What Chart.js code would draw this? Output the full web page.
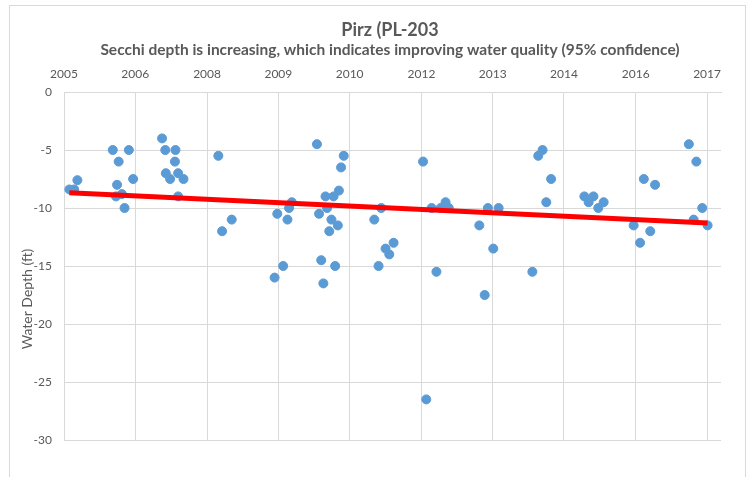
<!DOCTYPE html>
<html>
<head>
<meta charset="utf-8">
<title>Pirz (PL-203</title>
<script src="https://cdn.jsdelivr.net/npm/chart.js@4/dist/chart.umd.min.js"></script>
<style>
  html, body { margin: 0; padding: 0; background: #fff; }
  #wrap { width: 751px; height: 477px; position: relative; }
</style>
</head>
<body>
<div id="wrap"><canvas id="chart"></canvas></div>
<script>
// sample dates (decimal years) and Secchi depth readings (ft, negative = below surface)
const sampleYears = [
  2005.60, 2005.69, 2005.75, 2006.41, 2006.47, 2006.49, 2006.52, 2006.58, 2006.63, 2006.71,
  2006.79, 2007.33, 2007.39, 2007.40, 2007.48, 2007.57, 2007.58, 2007.63, 2007.63, 2007.73,
  2008.38, 2008.45, 2008.63, 2009.43, 2009.48, 2009.59, 2009.67, 2009.70, 2009.75, 2010.22,
  2010.26, 2010.30, 2010.34, 2010.38, 2010.41, 2010.45, 2010.49, 2010.53, 2010.56, 2010.61,
  2010.63, 2010.67, 2010.72, 2011.29, 2011.37, 2011.42, 2011.50, 2011.57, 2011.65, 2012.20,
  2012.26, 2012.36, 2012.45, 2012.53, 2012.62, 2012.68, 2013.25, 2013.35, 2013.41, 2013.51,
  2013.61, 2014.24, 2014.35, 2014.43, 2014.50, 2014.59, 2015.21, 2015.29, 2015.38, 2015.47,
  2015.57, 2016.13, 2016.25, 2016.32, 2016.44, 2016.53, 2017.16, 2017.25, 2017.30, 2017.41,
  2017.51
];
const depthFt = [
  -8.4, -8.4, -7.6, -5.0, -9.0, -8.0, -6.0, -8.8, -10.0, -5.0,
  -7.5, -4.0, -5.0, -7.0, -7.5, -6.0, -5.0, -7.0, -9.0, -7.5,
  -5.5, -12.0, -11.0, -16.0, -10.5, -15.0, -11.0, -10.0, -9.5, -4.5,
  -10.5, -14.5, -16.5, -9.0, -10.0, -12.0, -11.0, -9.0, -15.0, -11.5,
  -8.5, -6.5, -5.5, -11.0, -15.0, -10.0, -13.5, -14.0, -13.0, -6.0,
  -26.5, -10.0, -15.5, -10.0, -9.5, -10.0, -11.5, -17.5, -10.0, -13.5,
  -10.0, -15.5, -5.5, -5.0, -9.5, -7.5, -9.0, -9.5, -9.0, -10.0,
  -9.5, -11.5, -13.0, -7.5, -12.0, -8.0, -4.5, -11.0, -6.0, -10.0,
  -11.5
];
// linear trend end points
const trendYears = [2005.60, 2017.51];
const trendFt = [-8.68, -11.3];

// x axis (Excel date axis, odd major unit)
const xTickValues = [2005.5, 2006.83, 2008.17, 2009.5, 2010.83, 2012.17, 2013.5, 2014.83, 2016.17, 2017.5];
const xTickLabels = ['2005', '2006', '2008', '2009', '2010', '2012', '2013', '2014', '2016', '2017'];
const yTicks = [0, -5, -10, -15, -20, -25, -30];

const titleText = 'Pirz (PL-203';
const subtitleText = 'Secchi depth is increasing, which indicates improving water quality (95% confidence)';
const yTitleText = 'Water Depth (ft)';

const textGray = '#595959';
const gridGray = '#d9d9d9';
const fontFam = 'Lato, "Open Sans", sans-serif';

// outer frame, titles (centred over the plot, not the canvas) and y axis title
const decor = {
  id: 'decor',
  beforeDraw(chart) {
    const c = chart.ctx;
    c.save();
    c.fillStyle = '#fff';
    c.fillRect(0, 0, chart.width, chart.height);
    c.strokeStyle = gridGray;
    c.lineWidth = 1;
    c.strokeRect(9.5, 5.5, 736, 500);
    c.restore();
  },
  afterDraw(chart) {
    const c = chart.ctx;
    c.save();
    c.fillStyle = textGray;
    c.textAlign = 'center';
    c.textBaseline = 'middle';
    c.font = 'bold 18px ' + fontFam;
    c.fillText(titleText, 390, 30);
    c.font = 'bold 15.5px ' + fontFam;
    c.fillText(subtitleText, 390, 49.5);
    c.translate(27, 299);
    c.rotate(-Math.PI / 2);
    c.font = '14px ' + fontFam;
    c.fillText(yTitleText, 0, 0);
    c.restore();
  }
};

new Chart(document.getElementById('chart'), {
  type: 'scatter',
  data: {
    datasets: [
      {
        type: 'line',
        label: 'Trend',
        data: trendYears.map((x, i) => ({ x, y: trendFt[i] })),
        borderColor: '#ff0000',
        borderWidth: 5,
        pointRadius: 0,
        fill: false,
      },
      {
        label: 'Secchi depth',
        data: sampleYears.map((x, i) => ({ x, y: depthFt[i] })),
        backgroundColor: '#5b9bd5',
        borderColor: '#5b9bd5',
        borderWidth: 1,
        pointRadius: 4.5,
      },
    ],
  },
  options: {
    responsive: true,
    maintainAspectRatio: false,
    animation: false,
    layout: { padding: { left: 0, right: 30, top: 66.6, bottom: 37 } },
    plugins: {
      legend: { display: false },
      tooltip: { enabled: false },
    },
    scales: {
      x: {
        type: 'linear',
        position: 'top',
        min: 2005.5,
        max: 2017.76,
        afterBuildTicks: scale => { scale.ticks = xTickValues.map(v => ({ value: v })); },
        afterFit: scale => { scale.height = 25.4; },
        ticks: {
          color: textGray,
          font: { family: fontFam, size: 12 },
          padding: 11,
          maxRotation: 0,
          callback: (v, i) => xTickLabels[i],
        },
        grid: { color: gridGray, drawTicks: false },
        border: { color: gridGray },
      },
      y: {
        min: -30,
        max: 0,
        afterBuildTicks: scale => { scale.ticks = yTicks.map(v => ({ value: v })); },
        afterFit: scale => { scale.width = 64; },
        ticks: {
          color: textGray,
          font: { family: fontFam, size: 12 },
          padding: 12,
        },
        grid: { color: gridGray, drawTicks: false },
        border: { color: gridGray },
      },
    },
  },
  plugins: [decor],
});
</script>
</body>
</html>
